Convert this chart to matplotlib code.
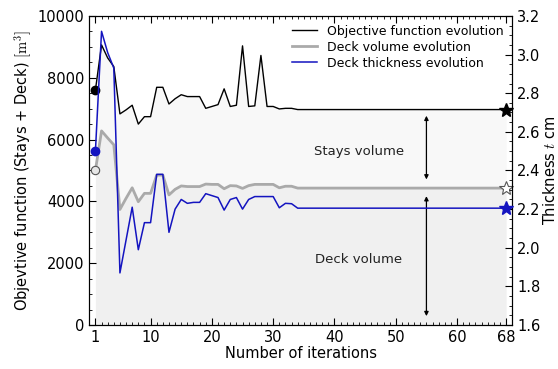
import matplotlib
matplotlib.use("Agg")
import matplotlib.pyplot as plt
from matplotlib.ticker import MultipleLocator, FormatStrFormatter

plt.rcParams["font.family"] = ["DejaVu Sans"]
plt.rcParams["mathtext.fontset"] = "cm"

# iterations 1..68
iterations = list(range(1, 69))

objective = [7600, 9060, 8640, 8360, 6830, 6960, 7110, 6500, 6740, 6740,
             7690, 7690, 7150, 7320, 7450, 7390, 7390, 7390, 7010, 7070,
             7130, 7640, 7070, 7110, 9030, 7070, 7090, 8720, 7070, 7070,
             6990, 7010, 7010] + [6970] * 35

deck_volume = [5000, 6280, 6050, 5830, 3740, 4100, 4440, 3990, 4260, 4260,
               4850, 4850, 4210, 4390, 4500, 4480, 4480, 4480, 4560, 4550,
               4550, 4410, 4510, 4500, 4420, 4510, 4550, 4550, 4550, 4550,
               4440, 4490, 4490] + [4430] * 35

thickness = [2.50, 3.12, 3.01, 2.93, 1.87, 2.04, 2.21, 1.99, 2.13, 2.13,
             2.38, 2.38, 2.08, 2.20, 2.25, 2.23, 2.235, 2.235, 2.28, 2.27,
             2.26, 2.195, 2.25, 2.26, 2.20, 2.25, 2.265, 2.265, 2.265, 2.265,
             2.207, 2.23, 2.228] + [2.205] * 35

x_ticks = [1, 10, 20, 30, 40, 50, 60, 68]
arrow_x = 55

BLUE = "#1414c0"
GRAY = "#aaaaaa"
FS = 10.5

fig = plt.figure(figsize=(5.58, 3.69), dpi=100)
ax = fig.add_axes([0.160, 0.119, 0.758, 0.838])

ax.fill_between(iterations, 0, deck_volume, color="#f0f0f0", lw=0, zorder=0)
ax.fill_between(iterations, deck_volume, objective, color="#f8f8f8", lw=0, zorder=0)

l1, = ax.plot(iterations, objective, color="black", lw=1.0, label="Objective function evolution")
l2, = ax.plot(iterations, deck_volume, color=GRAY, lw=2.0, label="Deck volume evolution")

ax.plot(iterations[0], objective[0], "o", color="black", ms=6, zorder=5)
ax.plot(iterations[0], deck_volume[0], "o", mfc="#e6e6e6", mec="#555555", mew=0.8, ms=6, zorder=5)
ax.plot(iterations[-1], objective[-1], "*", color="black", ms=10, zorder=5, clip_on=False)
ax.plot(iterations[-1], deck_volume[-1], "*", mfc="white", mec="#555555", mew=0.8, ms=10,
        zorder=5, clip_on=False)

arrow_kw = dict(arrowstyle="<|-|>", color="black", lw=0.9, mutation_scale=6)
ax.annotate("", xy=(arrow_x, 6860), xytext=(arrow_x, 4620), arrowprops=arrow_kw)
ax.annotate("", xy=(arrow_x, 4260), xytext=(arrow_x, 200), arrowprops=arrow_kw)
ax.text(44, 5620, "Stays volume", ha="center", va="center", fontsize=9.5, color="#222222")
ax.text(44, 2120, "Deck volume", ha="center", va="center", fontsize=9.5, color="#222222")

ax.set_xlim(0, 69)
ax.set_ylim(0, 10000)
ax.set_xticks(x_ticks)
ax.xaxis.set_minor_locator(MultipleLocator(1))
ax.yaxis.set_major_locator(MultipleLocator(2000))
ax.yaxis.set_minor_locator(MultipleLocator(500))
ax.tick_params(which="both", direction="in", top=True, labelsize=FS)
ax.tick_params(which="major", length=5)
ax.tick_params(which="minor", length=2.5)
ax.set_xlabel("Number of iterations", fontsize=FS, labelpad=1)
ax.set_ylabel(r"Objevtive function (Stays + Deck) $[\mathrm{m}^3]$", fontsize=FS, labelpad=3)

ax2 = ax.twinx()
l3, = ax2.plot(iterations, thickness, color=BLUE, lw=1.1, label="Deck thickness evolution")
ax2.plot(iterations[0], thickness[0], "o", color=BLUE, ms=6, zorder=5)
ax2.plot(iterations[-1], thickness[-1], "*", color=BLUE, ms=10, zorder=5, clip_on=False)
ax2.set_ylim(1.6, 3.2)
ax2.yaxis.set_major_locator(MultipleLocator(0.2))
ax2.yaxis.set_minor_locator(MultipleLocator(0.05))
ax2.yaxis.set_major_formatter(FormatStrFormatter("%.1f"))
ax2.tick_params(which="both", direction="in", labelsize=FS)
ax2.tick_params(which="major", length=5)
ax2.tick_params(which="minor", length=2.5)
ax2.set_ylabel(r"Thickness $t$ cm", fontsize=FS, labelpad=1)

ax2.legend([l1, l2, l3], [l1.get_label(), l2.get_label(), l3.get_label()],
           loc="upper right", frameon=False, fontsize=9, handlelength=2.0,
           borderaxespad=0.3, labelspacing=0.25)

fig.savefig("out.png", dpi=100)
